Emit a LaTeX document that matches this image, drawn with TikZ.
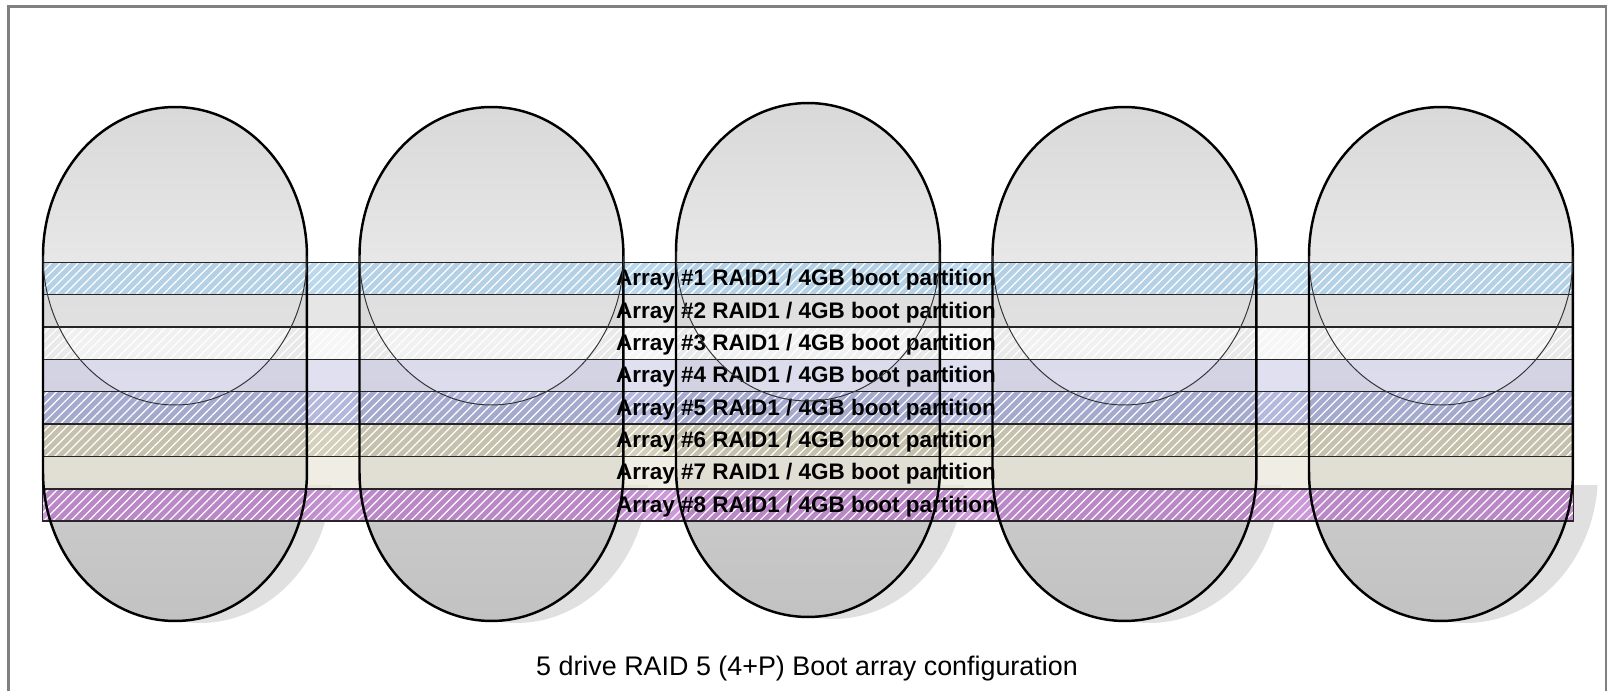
\documentclass[tikz,border=0pt]{standalone}
\usepackage{fontspec}
\setmainfont{Liberation Sans}
\usetikzlibrary{patterns.meta}

\definecolor{band1}{RGB}{159,199,228}
\definecolor{band2}{RGB}{219,219,219}
\definecolor{band3}{RGB}{242,242,242}
\definecolor{band4}{RGB}{211,211,234}
\definecolor{band5}{RGB}{148,154,205}
\definecolor{band6}{RGB}{194,188,159}
\definecolor{band7}{RGB}{234,231,216}
\definecolor{band8}{RGB}{182,109,199}
\definecolor{frame_gray}{RGB}{128,128,128}

\begin{document}
\begin{tikzpicture}[%
        x = 0.02cm, y = 0.02cm,
        drive_shape/.style args = {#1:#2}{
            insert path = {(#1 - 132, 218 + #2) -- ++(0, 216)
                arc [start angle = 180, end angle = 0, x radius = 2.64cm, y radius = 2.98cm]
                -- ++(0, -216)
                arc [start angle = 0, end angle = -180, x radius = 2.64cm, y radius = 2.98cm]
                -- cycle}
        },
        top_face/.style args = {#1:#2}{
            insert path = {(#1, 434 + #2) ellipse [x radius = 2.64cm, y radius = 2.98cm]}
        },
        inner_arc/.style args = {#1:#2}{
            insert path = {(#1 + 132, 434 + #2)
                arc [start angle = 0, end angle = -180, x radius = 2.64cm, y radius = 2.98cm]}
        },
        drive_body/.style = {top color = black!10, bottom color = black!24},
        drive_top/.style = {top color = black!15, bottom color = black!4},
        drive_line/.style = {line width = 1.4pt, black},
        thin_line/.style = {line width = 0.55pt, black!80},
        band/.style = {fill opacity = 0.7},
        hatch/.style = {
            pattern = {Lines[angle = 45, distance = 3.6pt, line width = 0.7pt]},
            pattern color = white, fill opacity = 0.5
        },
        band_edge/.style = {line width = 0.9pt, black!85},
        band_label/.style = {font = \fontsize{12.8}{14}\selectfont\bfseries, inner sep = 0pt, anchor = base},
    ]

    \useasboundingbox (0, 0) rectangle (1612, 690);

    % Grey frame, its bottom side lies below the page.
    \begin{scope}
        \clip (0, 0) rectangle (1612, 690);
        \draw [frame_gray, line width = 1.4pt] (8.7, -20) rectangle (1606, 683.3);
    \end{scope}

    % Soft shadows at the lower right of the drives.
    \begin{scope}
        \clip (0, 0) rectangle (1612, 205);
        \foreach \cx/\dy in {175/0, 491.5/0, 808/4, 1124.5/0, 1441/0} {
            \fill [black!12] [drive_shape = {\cx + 25}:{\dy - 2}];
        }
    \end{scope}

    % Drive bodies and top faces.
    \foreach \cx/\dy in {175/0, 491.5/0, 808/4, 1124.5/0, 1441/0} {
        \shade [drive_body] [drive_shape = \cx:\dy];
        \shade [drive_top] [top_face = \cx:\dy];
    }

    % The eight RAID1 boot partitions.
    \foreach \i/\striped in {1/1, 2/0, 3/1, 4/0, 5/1, 6/1, 7/0, 8/1} {
        \pgfmathsetmacro{\ytop}{427.7 - (\i - 1) * 32.35}
        \fill [band, fill = band\i] (42.5, \ytop) rectangle (1573.5, \ytop - 32.35);
        \ifnum\striped = 1
            \fill [hatch] (42.5, \ytop) rectangle (1573.5, \ytop - 32.35);
        \fi
        \draw [band_edge] (42.5, \ytop) rectangle (1573.5, \ytop - 32.35);
        \node (lbl\i) [band_label] at (806, \ytop - 23.5) {Array \#\i{} RAID1 / 4GB boot partition};
    }

    % Drive outlines lie over the bands and labels.
    \foreach \cx/\dy in {175/0, 491.5/0, 808/4, 1124.5/0, 1441/0} {
        \draw [drive_line] [drive_shape = \cx:\dy];
        \draw [thin_line] [inner_arc = \cx:\dy];
    }

    \node (title) [font = \fontsize{15.3}{18}\selectfont, inner sep = 0pt, anchor = base] at (807, 15)
        {5 drive RAID 5 (4+P) Boot array configuration};
\end{tikzpicture}
\end{document}
